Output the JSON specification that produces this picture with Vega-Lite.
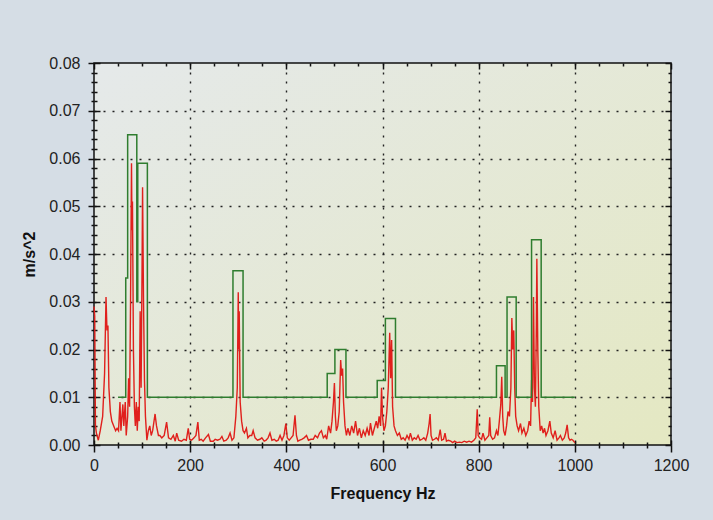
{
  "$schema": "https://vega.github.io/schema/vega-lite/v6.json",
  "width": 577,
  "height": 382,
  "autosize": {"type": "none"},
  "padding": {"left": 94, "top": 63, "right": 42, "bottom": 75},
  "background": "#d5dde5",
  "config": {
    "view": {"stroke": "#111", "strokeWidth": 1.5, "fill": {"expr": "{gradient:'linear',x1:0,y1:0,x2:1,y2:1,stops:[{offset:0,color:'#e5e9ea'},{offset:1,color:'#e4e8c2'}]}"}},
    "axis": {"domain": false, "labelFont": "Liberation Sans", "labelFontSize": 16, "labelColor": "#222", "titleFont": "Liberation Sans", "titleFontSize": 16, "titleFontWeight": "bold", "titleColor": "#111", "tickColor": "#111", "tickWidth": 1.5, "grid": false, "labelFlush": false, "labelOverlap": false, "labelBound": false}
  },
  "datasets": {
    "spec": [
      {"f":0,"v":0.029},{"f":1.5,"v":0.027},{"f":3,"v":0.004},{"f":5,"v":0.0025},{"f":9,"v":0.001},{"f":13,"v":0.003},{"f":18,"v":0.006},{"f":22,"v":0.015},{"f":25,"v":0.031},{"f":27,"v":0.024},{"f":29,"v":0.025},{"f":31,"v":0.012},{"f":34,"v":0.007},{"f":37,"v":0.005},{"f":41,"v":0.004},{"f":45,"v":0.003},{"f":48,"v":0.0035},{"f":51,"v":0.003},{"f":54,"v":0.009},{"f":56,"v":0.003},{"f":60,"v":0.0085},{"f":62,"v":0.004},{"f":65,"v":0.009},{"f":67,"v":0.002},{"f":70,"v":0.006},{"f":72,"v":0.014},{"f":74,"v":0.008},{"f":76,"v":0.03},{"f":78,"v":0.059},{"f":79,"v":0.045},{"f":80,"v":0.051},{"f":82,"v":0.02},{"f":84,"v":0.008},{"f":86,"v":0.004},{"f":88,"v":0.009},{"f":90,"v":0.003},{"f":92,"v":0.008},{"f":94,"v":0.005},{"f":96,"v":0.028},{"f":98,"v":0.012},{"f":100,"v":0.038},{"f":101,"v":0.054},{"f":103,"v":0.03},{"f":105,"v":0.0135},{"f":107,"v":0.006},{"f":110,"v":0.001},{"f":113,"v":0.003},{"f":116,"v":0.004},{"f":119,"v":0.002},{"f":122,"v":0.003},{"f":127,"v":0.0065},{"f":130,"v":0.004},{"f":134,"v":0.002},{"f":137,"v":0.002},{"f":141,"v":0.0015},{"f":146,"v":0.002},{"f":151,"v":0.0048},{"f":155,"v":0.0015},{"f":160,"v":0.0012},{"f":165,"v":0.002},{"f":169,"v":0.0008},{"f":172,"v":0.0025},{"f":176,"v":0.001},{"f":182,"v":0.0008},{"f":187,"v":0.0012},{"f":192,"v":0.001},{"f":196,"v":0.0035},{"f":199,"v":0.0012},{"f":203,"v":0.001},{"f":208,"v":0.0015},{"f":212,"v":0.002},{"f":216,"v":0.0048},{"f":219,"v":0.001},{"f":223,"v":0.0012},{"f":227,"v":0.0008},{"f":232,"v":0.0015},{"f":238,"v":0.0022},{"f":242,"v":0.0008},{"f":248,"v":0.0008},{"f":252,"v":0.0012},{"f":257,"v":0.001},{"f":262,"v":0.0012},{"f":266,"v":0.0018},{"f":270,"v":0.0008},{"f":275,"v":0.001},{"f":279,"v":0.0015},{"f":283,"v":0.0025},{"f":287,"v":0.001},{"f":291,"v":0.0015},{"f":295,"v":0.006},{"f":298,"v":0.012},{"f":300,"v":0.032},{"f":301,"v":0.02},{"f":302,"v":0.028},{"f":304,"v":0.009},{"f":307,"v":0.005},{"f":310,"v":0.003},{"f":313,"v":0.0025},{"f":317,"v":0.0035},{"f":320,"v":0.0015},{"f":324,"v":0.002},{"f":328,"v":0.002},{"f":331,"v":0.003},{"f":335,"v":0.0015},{"f":340,"v":0.001},{"f":345,"v":0.0012},{"f":349,"v":0.0015},{"f":354,"v":0.0008},{"f":358,"v":0.001},{"f":362,"v":0.0015},{"f":366,"v":0.0025},{"f":370,"v":0.001},{"f":375,"v":0.0012},{"f":379,"v":0.0008},{"f":383,"v":0.001},{"f":387,"v":0.002},{"f":391,"v":0.001},{"f":395,"v":0.002},{"f":399,"v":0.0045},{"f":402,"v":0.0015},{"f":406,"v":0.001},{"f":410,"v":0.0015},{"f":414,"v":0.002},{"f":418,"v":0.0062},{"f":421,"v":0.002},{"f":424,"v":0.0008},{"f":428,"v":0.001},{"f":432,"v":0.0012},{"f":437,"v":0.0015},{"f":442,"v":0.002},{"f":446,"v":0.001},{"f":451,"v":0.0012},{"f":456,"v":0.0012},{"f":460,"v":0.002},{"f":465,"v":0.0015},{"f":469,"v":0.0025},{"f":473,"v":0.003},{"f":477,"v":0.0015},{"f":481,"v":0.002},{"f":484,"v":0.0012},{"f":488,"v":0.004},{"f":492,"v":0.0025},{"f":495,"v":0.005},{"f":498,"v":0.009},{"f":500,"v":0.013},{"f":502,"v":0.006},{"f":504,"v":0.003},{"f":507,"v":0.004},{"f":510,"v":0.007},{"f":513,"v":0.0178},{"f":515,"v":0.0145},{"f":517,"v":0.016},{"f":519,"v":0.009},{"f":522,"v":0.004},{"f":525,"v":0.002},{"f":528,"v":0.0035},{"f":532,"v":0.002},{"f":536,"v":0.004},{"f":540,"v":0.0025},{"f":544,"v":0.005},{"f":548,"v":0.002},{"f":552,"v":0.0035},{"f":556,"v":0.0015},{"f":560,"v":0.003},{"f":564,"v":0.002},{"f":568,"v":0.0035},{"f":572,"v":0.002},{"f":575,"v":0.0046},{"f":579,"v":0.002},{"f":583,"v":0.0035},{"f":587,"v":0.005},{"f":590,"v":0.0035},{"f":593,"v":0.006},{"f":596,"v":0.004},{"f":598,"v":0.012},{"f":600,"v":0.006},{"f":603,"v":0.003},{"f":606,"v":0.004},{"f":609,"v":0.007},{"f":612,"v":0.012},{"f":615,"v":0.0235},{"f":617,"v":0.014},{"f":619,"v":0.022},{"f":621,"v":0.008},{"f":624,"v":0.004},{"f":627,"v":0.003},{"f":631,"v":0.002},{"f":635,"v":0.0025},{"f":639,"v":0.0012},{"f":643,"v":0.0015},{"f":647,"v":0.001},{"f":651,"v":0.002},{"f":655,"v":0.0012},{"f":658,"v":0.0025},{"f":662,"v":0.001},{"f":666,"v":0.0015},{"f":670,"v":0.0012},{"f":674,"v":0.002},{"f":678,"v":0.001},{"f":682,"v":0.0012},{"f":686,"v":0.0015},{"f":690,"v":0.001},{"f":694,"v":0.0025},{"f":697,"v":0.0045},{"f":699,"v":0.0065},{"f":701,"v":0.002},{"f":704,"v":0.001},{"f":708,"v":0.0012},{"f":712,"v":0.0015},{"f":716,"v":0.001},{"f":720,"v":0.0032},{"f":723,"v":0.001},{"f":727,"v":0.0012},{"f":730,"v":0.0025},{"f":733,"v":0.0008},{"f":737,"v":0.001},{"f":742,"v":0.0008},{"f":746,"v":0.0005},{"f":750,"v":0.0008},{"f":755,"v":0.0005},{"f":760,"v":0.0006},{"f":765,"v":0.0005},{"f":770,"v":0.0008},{"f":775,"v":0.0006},{"f":780,"v":0.0008},{"f":785,"v":0.0006},{"f":790,"v":0.001},{"f":794,"v":0.0015},{"f":797,"v":0.0075},{"f":799,"v":0.002},{"f":802,"v":0.0015},{"f":806,"v":0.0012},{"f":809,"v":0.0025},{"f":813,"v":0.001},{"f":817,"v":0.0015},{"f":821,"v":0.002},{"f":823,"v":0.0058},{"f":825,"v":0.002},{"f":829,"v":0.0012},{"f":833,"v":0.0015},{"f":837,"v":0.003},{"f":840,"v":0.002},{"f":843,"v":0.005},{"f":846,"v":0.0085},{"f":848,"v":0.0143},{"f":850,"v":0.006},{"f":852,"v":0.003},{"f":855,"v":0.002},{"f":858,"v":0.004},{"f":861,"v":0.007},{"f":864,"v":0.006},{"f":867,"v":0.012},{"f":869,"v":0.0266},{"f":871,"v":0.02},{"f":873,"v":0.024},{"f":875,"v":0.012},{"f":877,"v":0.006},{"f":880,"v":0.004},{"f":883,"v":0.003},{"f":887,"v":0.0045},{"f":890,"v":0.0025},{"f":894,"v":0.0035},{"f":898,"v":0.002},{"f":902,"v":0.003},{"f":905,"v":0.005},{"f":908,"v":0.004},{"f":910,"v":0.0136},{"f":912,"v":0.009},{"f":914,"v":0.031},{"f":916,"v":0.012},{"f":918,"v":0.008},{"f":920,"v":0.025},{"f":921,"v":0.039},{"f":923,"v":0.02},{"f":925,"v":0.008},{"f":928,"v":0.003},{"f":931,"v":0.004},{"f":934,"v":0.0025},{"f":937,"v":0.0035},{"f":940,"v":0.002},{"f":944,"v":0.003},{"f":948,"v":0.005},{"f":951,"v":0.0025},{"f":955,"v":0.0015},{"f":959,"v":0.003},{"f":963,"v":0.001},{"f":967,"v":0.0015},{"f":970,"v":0.002},{"f":974,"v":0.001},{"f":978,"v":0.0015},{"f":981,"v":0.0025},{"f":984,"v":0.0042},{"f":987,"v":0.0015},{"f":990,"v":0.001},{"f":993,"v":0.0012},{"f":996,"v":0.001},{"f":1000,"v":0.0005}
    ],
    "mask": [
      {"f":50,"v":0.01},{"f":66,"v":0.01},{"f":66,"v":0.035},{"f":70,"v":0.035},{"f":70,"v":0.065},{"f":89,"v":0.065},{"f":89,"v":0.03},{"f":91,"v":0.03},{"f":91,"v":0.059},{"f":111,"v":0.059},{"f":111,"v":0.01},
      {"f":289,"v":0.01},{"f":289,"v":0.0365},{"f":310,"v":0.0365},{"f":310,"v":0.01},
      {"f":485,"v":0.01},{"f":485,"v":0.015},{"f":501,"v":0.015},{"f":501,"v":0.02},{"f":524,"v":0.02},{"f":524,"v":0.01},
      {"f":589,"v":0.01},{"f":589,"v":0.0135},{"f":606,"v":0.0135},{"f":606,"v":0.0265},{"f":627,"v":0.0265},{"f":627,"v":0.01},
      {"f":837,"v":0.01},{"f":837,"v":0.0166},{"f":855,"v":0.0166},{"f":855,"v":0.01},{"f":859,"v":0.01},{"f":859,"v":0.031},{"f":878,"v":0.031},{"f":878,"v":0.01},
      {"f":910,"v":0.01},{"f":910,"v":0.043},{"f":930,"v":0.043},{"f":930,"v":0.01},{"f":1000,"v":0.01}
    ]
  },
  "layer": [
    {
      "data": {"name": "mask"},
      "mark": {"type": "line", "opacity": 0},
      "encoding": {
        "x": {"field": "f", "type": "quantitative", "scale": {"domain": [0, 1200], "nice": false},
          "axis": {"orient": "bottom", "values": [0,50,100,150,200,250,300,350,400,450,500,550,600,650,700,750,800,850,900,950,1000,1050,1100,1150,1200], "labels": false, "title": null,
            "tickSize": {"condition": {"test": "datum.value % 200 === 0", "value": -5}, "value": -3},
            "grid": true, "gridDash": [2, 7], "gridColor": "#222", "gridWidth": 1.4,
            "gridOpacity": {"condition": {"test": "datum.value % 200 === 0 && datum.value > 0 && datum.value < 1200", "value": 1}, "value": 0}}},
        "y": {"field": "v", "type": "quantitative", "scale": {"domain": [0, 0.08], "nice": false, "zero": false},
          "axis": {"orient": "left", "values": [0,0.002,0.004,0.006,0.008,0.01,0.012,0.014,0.016,0.018,0.02,0.022,0.024,0.026,0.028,0.03,0.032,0.034,0.036,0.038,0.04,0.042,0.044,0.046,0.048,0.05,0.052,0.054,0.056,0.058,0.06,0.062,0.064,0.066,0.068,0.07,0.072,0.074,0.076,0.078,0.08], "labels": false, "title": null,
            "tickSize": {"condition": {"test": "abs(datum.value*100 - round(datum.value*100)) < 0.001", "value": -6}, "value": -3},
            "grid": true, "gridDash": [2, 7], "gridColor": "#222", "gridWidth": 1.4,
            "gridOpacity": {"condition": {"test": "abs(datum.value*100 - round(datum.value*100)) < 0.001 && datum.value > 0.001 && datum.value < 0.079", "value": 1}, "value": 0}}}
      }
    },
    {
      "data": {"name": "spec"},
      "mark": {"type": "line", "color": "#e0201c", "strokeWidth": 1.4},
      "encoding": {
        "x": {"field": "f", "type": "quantitative", "scale": {"domain": [0, 1200], "nice": false},
          "axis": {"orient": "bottom", "values": [0,50,100,150,200,250,300,350,400,450,500,550,600,650,700,750,800,850,900,950,1000,1050,1100,1150,1200], "format": "d",
            "labelExpr": "datum.value % 200 === 0 ? datum.label : ''", "labelPadding": 5, "title": "Frequency Hz", "titlePadding": 12,
            "tickSize": {"condition": {"test": "datum.value % 200 === 0", "value": 7}, "value": 3}}},
        "y": {"field": "v", "type": "quantitative", "scale": {"domain": [0, 0.08], "nice": false, "zero": false},
          "axis": {"orient": "left", "values": [0,0.002,0.004,0.006,0.008,0.01,0.012,0.014,0.016,0.018,0.02,0.022,0.024,0.026,0.028,0.03,0.032,0.034,0.036,0.038,0.04,0.042,0.044,0.046,0.048,0.05,0.052,0.054,0.056,0.058,0.06,0.062,0.064,0.066,0.068,0.07,0.072,0.074,0.076,0.078,0.08],
            "labelExpr": "abs(datum.value*100 - round(datum.value*100)) < 0.001 ? format(datum.value, '.2f') : ''", "labelPadding": 8, "title": "m/s^2", "titlePadding": 11,
            "tickSize": {"condition": {"test": "abs(datum.value*100 - round(datum.value*100)) < 0.001", "value": 6}, "value": 3}}}
      }
    },
    {
      "data": {"name": "mask"},
      "mark": {"type": "line", "color": "#2f7d2f", "strokeWidth": 1.5},
      "encoding": {
        "x": {"field": "f", "type": "quantitative", "scale": {"domain": [0, 1200], "nice": false},
          "axis": {"orient": "top", "values": [0,50,100,150,200,250,300,350,400,450,500,550,600,650,700,750,800,850,900,950,1000,1050,1100,1150,1200], "labels": false, "title": null,
            "tickSize": {"condition": {"test": "datum.value % 200 === 0", "value": -6}, "value": -3}}},
        "y": {"field": "v", "type": "quantitative", "scale": {"domain": [0, 0.08], "nice": false, "zero": false},
          "axis": {"orient": "right", "values": [0,0.002,0.004,0.006,0.008,0.01,0.012,0.014,0.016,0.018,0.02,0.022,0.024,0.026,0.028,0.03,0.032,0.034,0.036,0.038,0.04,0.042,0.044,0.046,0.048,0.05,0.052,0.054,0.056,0.058,0.06,0.062,0.064,0.066,0.068,0.07,0.072,0.074,0.076,0.078,0.08], "labels": false, "title": null,
            "tickSize": {"condition": {"test": "abs(datum.value*100 - round(datum.value*100)) < 0.001", "value": -6}, "value": -3}}}
      }
    }
  ],
  "resolve": {"axis": {"x": "independent", "y": "independent"}}
}
